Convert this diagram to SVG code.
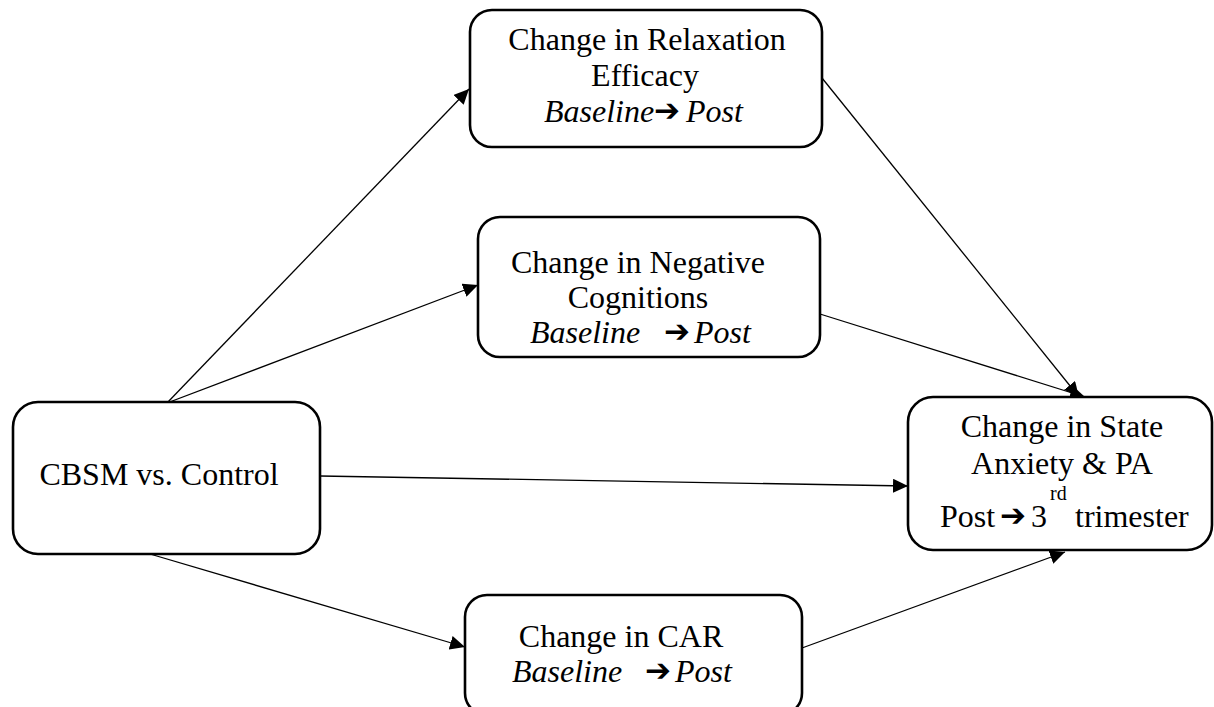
<svg xmlns="http://www.w3.org/2000/svg" width="1214" height="707" viewBox="0 0 1214 707">
  <style>
    .box { fill: #ffffff; stroke: #000000; stroke-width: 2.6; }
    .edge { fill: none; stroke: #000000; stroke-width: 1.3; }
    text { font-family: "Liberation Serif", "Times New Roman", serif; font-size: 32px; fill: #000000; }
    .c { text-anchor: middle; }
    .it { font-style: italic; }
    .arr { font-family: "DejaVu Sans", sans-serif; font-weight: normal; font-style: normal; font-size: 31px; }
    .sup { font-size: 20px; }
  </style>
  <defs>
    <marker id="head" markerUnits="userSpaceOnUse" markerWidth="16" markerHeight="14" refX="15" refY="7" orient="auto">
      <path d="M0,0 L15,7 L0,14 Z" fill="#000000"/>
    </marker>
  </defs>
  <rect width="1214" height="707" fill="#ffffff"/>

  <!-- connectors -->
  <g id="connectors">
    <line class="edge" x1="167" y1="403" x2="469" y2="89" marker-end="url(#head)"/>
    <line class="edge" x1="167" y1="403" x2="478" y2="285" marker-end="url(#head)"/>
    <line class="edge" x1="320" y1="476" x2="908" y2="486" marker-end="url(#head)"/>
    <line class="edge" x1="150" y1="554" x2="465" y2="647" marker-end="url(#head)"/>
    <line class="edge" x1="822" y1="78" x2="1079" y2="397" marker-end="url(#head)"/>
    <line class="edge" x1="820" y1="314" x2="1085" y2="397" marker-end="url(#head)"/>
    <line class="edge" x1="802" y1="648" x2="1065" y2="552" marker-end="url(#head)"/>
  </g>

  <!-- intervention -->
  <g id="cbsm">
    <rect class="box" x="13" y="402" width="307" height="152" rx="25"/>
    <text class="c" x="159" y="485">CBSM vs. Control</text>
  </g>

  <!-- mediator: relaxation efficacy -->
  <g id="relaxation">
    <rect class="box" x="470" y="10" width="352" height="137" rx="22"/>
    <text class="c" x="647" y="50">Change in Relaxation</text>
    <text class="c" x="645" y="86">Efficacy</text>
    <text y="122"><tspan class="it" x="544">Baseline</tspan><tspan class="arr" x="654" dy="-1">➔</tspan><tspan class="it" x="686" dy="1">Post</tspan></text>
  </g>

  <!-- mediator: negative cognitions -->
  <g id="negative">
    <rect class="box" x="478" y="217" width="342" height="140" rx="22"/>
    <text class="c" x="638" y="273">Change in Negative</text>
    <text class="c" x="638" y="308">Cognitions</text>
    <text y="343"><tspan class="it" x="530">Baseline</tspan><tspan class="arr" x="664" dy="-1">➔</tspan><tspan class="it" x="694" dy="1">Post</tspan></text>
  </g>

  <!-- mediator: cortisol awakening response -->
  <g id="car">
    <rect class="box" x="465" y="595" width="337" height="120" rx="22"/>
    <text class="c" x="621" y="647">Change in CAR</text>
    <text y="682"><tspan class="it" x="512">Baseline</tspan><tspan class="arr" x="645" dy="-1">➔</tspan><tspan class="it" x="675" dy="1">Post</tspan></text>
  </g>

  <!-- outcome -->
  <g id="state">
    <rect class="box" x="908" y="397" width="304" height="153" rx="25"/>
    <text class="c" x="1062" y="437">Change in State</text>
    <text class="c" x="1062" y="474">Anxiety &amp; PA</text>
    <text y="527"><tspan x="940">Post</tspan><tspan class="arr" x="1000" dy="-1">➔</tspan><tspan x="1031" dy="1">3</tspan><tspan class="sup" x="1050" y="500">rd</tspan><tspan x="1075" y="527">trimester</tspan></text>
  </g>
</svg>
